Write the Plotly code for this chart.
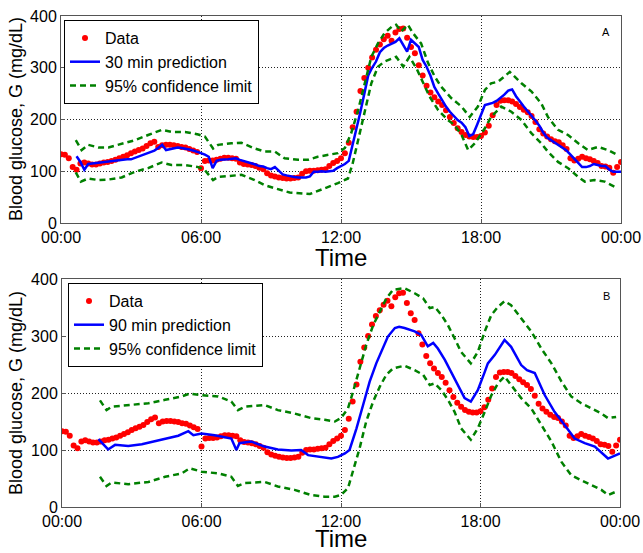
import plotly.graph_objects as go

# ---------------- data ----------------
# Measured glucose, every 10 minutes from 00:00 to 24:00
data_g = [
    133, 132, 125, 108, 103, 115,
    117, 115, 113, 113, 115, 117,
    118, 120, 122, 125, 128, 131,
    135, 138, 141, 144, 149, 154,
    157, 147, 150, 151, 151, 150,
    149, 147, 146, 143, 140, 137,
    106, 120, 121, 121, 122, 124,
    126, 126, 125, 124, 117, 114,
    113, 112, 110, 107, 104, 96,
    92, 90, 88, 87, 86, 86,
    87, 88, 95, 100, 101, 101,
    102, 103, 104, 110, 116, 120,
    125, 135, 155, 185, 215, 255,
    280, 300, 320, 335, 345, 355,
    362, 352, 368, 375, 376, 358,
    340, 328, 305, 285, 265, 252,
    243, 235, 228, 218, 205, 193,
    183, 176, 170, 167, 166, 166,
    168, 175, 188, 208, 228, 236,
    237, 237, 235, 230, 224, 219,
    214, 207, 195, 181, 173, 167,
    162, 158, 156, 150, 143, 125,
    121, 124, 128, 125, 123, 120,
    116, 110, 109, 107, 97, 108,
    118,
]
data_t = [i / 6 for i in range(len(data_g))]

# 30 min prediction, every 10 minutes from 00:40 to 24:00
pred30_g = [
    129, 118,
    103, 114, 115, 116, 117, 118,
    118, 119, 121, 122, 122, 123,
    123, 126, 128, 131, 134, 137,
    140, 145, 151, 141, 143, 145,
    146, 145, 144, 142, 140, 138,
    135, 132, 128, 106, 120, 122,
    122, 123, 124, 125, 122, 120,
    118, 115, 113, 110, 109, 106,
    104, 108, 100, 94, 92, 90,
    89, 88, 88, 88, 90, 99,
    99, 100, 99, 100, 101, 106,
    110, 114, 120, 150, 185, 215,
    250, 285, 300, 312, 330, 338,
    343, 346, 350, 357, 345, 331,
    354, 346, 340, 315, 302, 285,
    263, 250, 236, 225, 215, 206,
    199, 194, 185, 168, 172, 190,
    210, 228, 230, 232, 236, 242,
    248, 256, 258, 245, 234, 225,
    216, 208, 198, 188, 175, 165,
    160, 155, 150, 146, 140, 132,
    123, 116, 108, 108, 110, 114,
    112, 110, 110, 103, 99, 99,
    99,
]
pred30_t = [(4 + i) / 6 for i in range(len(pred30_g))]

ci30_up_t = ["00:38", "00:53", "01:10", "01:36", "02:02", "02:36", "03:10", "03:44", "04:19", "04:44",
             "05:19", "05:53", "06:10", "06:31", "06:44", "07:18", "07:44", "08:18", "08:44", "09:10",
             "09:35", "10:10", "10:35", "11:00", "11:35", "11:52", "12:10", "12:26", "12:44", "13:01",
             "13:18", "13:35", "13:52", "14:10", "14:22", "14:35", "14:52", "15:05", "15:26", "15:44",
             "16:01", "16:18", "16:44", "17:10", "17:31", "17:52", "18:10", "18:26", "18:44", "19:14",
             "19:44", "20:10", "20:35", "20:52", "21:18", "21:44", "22:10", "22:35", "23:01", "23:26",
             "23:52"]
ci30_up_g = [160, 141, 151, 146, 146, 153, 160, 170, 180, 176,
             176, 171, 167, 144, 151, 154, 155, 144, 138, 138,
             125, 122, 122, 128, 133, 135, 145, 173, 218, 270,
             321, 347, 367, 379, 383, 370, 383, 367, 347, 309,
             283, 263, 241, 225, 205, 225, 257, 270, 273, 292,
             270, 254, 231, 205, 180, 170, 154, 141, 147, 141,
             131]

ci30_lo_t = ["00:38", "00:51", "01:10", "01:36", "02:02", "02:36", "03:10", "03:44", "04:19", "04:44",
             "05:19", "05:53", "06:10", "06:31", "06:44", "07:18", "07:44", "08:18", "08:44", "09:10",
             "09:48", "10:40", "11:18", "11:52", "12:18", "12:30", "12:44", "13:01", "13:18", "13:35",
             "13:52", "14:22", "14:40", "14:56", "15:14", "15:30", "15:48", "16:10", "16:35", "16:52",
             "17:10", "17:27", "17:44", "18:10", "18:26", "18:52", "19:18", "19:44", "20:10", "20:35",
             "20:52", "21:18", "21:44", "22:10", "22:27", "22:52", "23:18", "23:52"]
ci30_lo_g = [98, 80, 86, 83, 84, 88, 99, 106, 117, 112,
             112, 108, 102, 83, 89, 91, 93, 83, 73, 67,
             59, 56, 67, 77, 86, 115, 160, 218, 270, 302,
             312, 321, 302, 321, 299, 273, 244, 218, 199, 189,
             170, 141, 154, 183, 205, 225, 215, 199, 173, 154,
             138, 118, 106, 89, 80, 83, 80, 67]

pred90_t = ["01:34", "01:59", "02:17", "02:51", "03:26", "04:00", "04:34", "05:00", "05:26", "05:39",
            "06:00", "06:34", "07:17", "07:30", "07:38", "08:08", "08:43", "09:17", "09:52", "10:17",
            "10:35", "11:09", "11:35", "11:52", "12:10", "12:22", "12:40", "12:57", "13:14", "13:31",
            "13:49", "14:01", "14:19", "14:30", "14:44", "15:10", "15:27", "15:44", "15:58", "16:10",
            "16:28", "16:44", "17:02", "17:19", "17:35", "17:53", "18:11", "18:19", "18:37", "19:02",
            "19:19", "19:45", "20:00", "20:20", "20:46", "21:11", "21:37", "22:03", "22:29", "22:55",
            "23:29", "24:00"]
pred90_g = [119, 101, 109, 107, 110, 115, 120, 125, 133, 126,
            129, 126, 120, 100, 112, 115, 106, 101, 99, 100,
            91, 87, 85, 88, 94, 100, 138, 179, 220, 252,
            281, 299, 314, 316, 314, 308, 302, 282, 288, 278,
            258, 237, 214, 191, 185, 205, 237, 252, 267, 293,
            281, 249, 240, 235, 196, 167, 144, 120, 112, 106,
            85, 94]

ci90_t = ["01:38", "01:55", "02:08", "02:51", "03:43", "04:26", "05:09", "05:30", "06:00", "06:43",
          "07:17", "07:34", "07:52", "08:43", "09:17", "10:00", "10:43", "11:18", "11:44", "12:00",
          "12:18", "12:31", "12:48", "13:05", "13:23", "13:40", "13:57", "14:14", "14:44", "15:10",
          "15:32", "15:49", "16:02", "16:19", "16:36", "16:53", "17:10", "17:35", "17:53", "18:11",
          "18:28", "18:45", "19:02", "19:19", "19:45", "20:11", "20:37", "21:03", "21:29", "21:54",
          "22:20", "22:46", "23:12", "23:29", "23:50"]
ci90_up_g = [187, 170, 176, 179, 182, 188, 194, 199, 196, 194,
             185, 170, 176, 179, 170, 164, 156, 153, 150, 156,
             173, 202, 243, 284, 319, 343, 366, 381, 384, 375,
             366, 349, 351, 337, 319, 296, 272, 252, 272, 308,
             337, 351, 361, 354, 331, 308, 278, 252, 220, 194,
             182, 173, 164, 156, 158]
ci90_lo_g = [53, 37, 43, 40, 44, 53, 59, 68, 62, 59,
             53, 37, 42, 44, 36, 30, 21, 18, 18, 21,
             33, 62, 103, 150, 185, 211, 232, 243, 248, 240,
             232, 214, 217, 205, 188, 167, 138, 118, 138, 167,
             196, 217, 229, 214, 191, 173, 144, 115, 79, 56,
             47, 39, 30, 21, 27]

tick_vals = [0, 6, 12, 18, 24]
tick_text = ["00:00", "06:00", "12:00", "18:00", "00:00"]
y_ticks = [0, 100, 200, 300, 400]


def hours(labels):
    out = []
    for s in labels:
        h, m = s.split(":")
        out.append(int(h) + int(m) / 60)
    return out


# ---------------- styling ----------------
W, H = 643, 553
FONT = "Liberation Sans, Arial, sans-serif"
RED = "#ff0000"
BLUE = "#0000ff"
GREEN = "#008000"

fig = go.Figure()


def add_panel(xa, ya, leg, pred_t, pred_g, pred_name, up_t, up_g, lo_t, lo_g):
    fig.add_trace(go.Scatter(x=data_t, y=data_g, mode="markers", name="Data",
                             marker=dict(color=RED, size=6, line=dict(width=0)),
                             xaxis=xa, yaxis=ya, legend=leg))
    fig.add_trace(go.Scatter(x=pred_t, y=pred_g, mode="lines", name=pred_name,
                             line=dict(color=BLUE, width=2.5),
                             xaxis=xa, yaxis=ya, legend=leg))
    fig.add_trace(go.Scatter(x=up_t, y=up_g, mode="lines", name="95% confidence limit",
                             line=dict(color=GREEN, width=2.5, dash="6px,4px"),
                             xaxis=xa, yaxis=ya, legend=leg))
    fig.add_trace(go.Scatter(x=lo_t, y=lo_g, mode="lines", name="95% confidence limit",
                             line=dict(color=GREEN, width=2.5, dash="6px,4px"),
                             xaxis=xa, yaxis=ya, legend=leg, showlegend=False))


add_panel("x", "y", "legend", pred30_t, pred30_g, "30 min prediction",
          hours(ci30_up_t), ci30_up_g, hours(ci30_lo_t), ci30_lo_g)
add_panel("x2", "y2", "legend2", hours(pred90_t), pred90_g, "90 min prediction",
          hours(ci90_t), ci90_up_g, hours(ci90_t), ci90_lo_g)

AX_COMMON = dict(showgrid=True, gridcolor="#222", griddash="1px,2px", gridwidth=1,
                 showline=True, linecolor="#555", linewidth=1, mirror=True,
                 ticks="inside", ticklen=4, tickcolor="#555", zeroline=False,
                 automargin=False,
                 tickfont=dict(size=16, color="black", family=FONT))


def xaxis(dom, anchor):
    return dict(domain=dom, anchor=anchor, range=[0, 24], tickvals=tick_vals, ticktext=tick_text,
                **AX_COMMON)


def yaxis(dom, anchor):
    return dict(domain=dom, anchor=anchor, range=[0, 400], tickvals=y_ticks, **AX_COMMON)


def legend(x_px, y_px):
    return dict(x=x_px / W, y=1 - y_px / H, xanchor="left", yanchor="top",
                bordercolor="black", borderwidth=1, bgcolor="white",
                font=dict(size=16, color="black", family=FONT),
                itemwidth=30, tracegroupgap=0)


def label(text, x_px, y_px, size, angle=0):
    return dict(text=text, x=x_px / W, y=1 - y_px / H, xref="paper", yref="paper",
                showarrow=False, textangle=angle, xanchor="center", yanchor="middle",
                font=dict(size=size, color="black", family=FONT))


fig.update_layout(
    width=W, height=H,
    margin=dict(l=0, r=0, t=0, b=0, pad=0),
    paper_bgcolor="white", plot_bgcolor="white",
    font=dict(family=FONT, color="black"),
    xaxis=xaxis([61 / W, 621 / W], "y"),
    yaxis=yaxis([1 - 223 / H, 1 - 16 / H], "x"),
    xaxis2=xaxis([62 / W, 620 / W], "y2"),
    yaxis2=yaxis([1 - 507 / H, 1 - 279 / H], "x2"),
    legend=legend(64, 20),
    legend2=legend(68, 283),
    annotations=[
        # axis titles
        label("Time", 341, 257, 24),
        label("Time", 341, 538, 24),
        label("Blood glucose, G (mg/dL)", 16, 119, 18, -90),
        label("Blood glucose, G (mg/dL)", 16, 393, 18, -90),
        # panel letters
        label("A", 606, 32, 11),
        label("B", 606, 296, 11),
    ],
)

# the page's default body margin would shift the figure; remove it
fig.write_html("out.html",
               config={"displayModeBar": False},
               post_script="document.body.style.margin='0';document.body.style.overflow='hidden';")
